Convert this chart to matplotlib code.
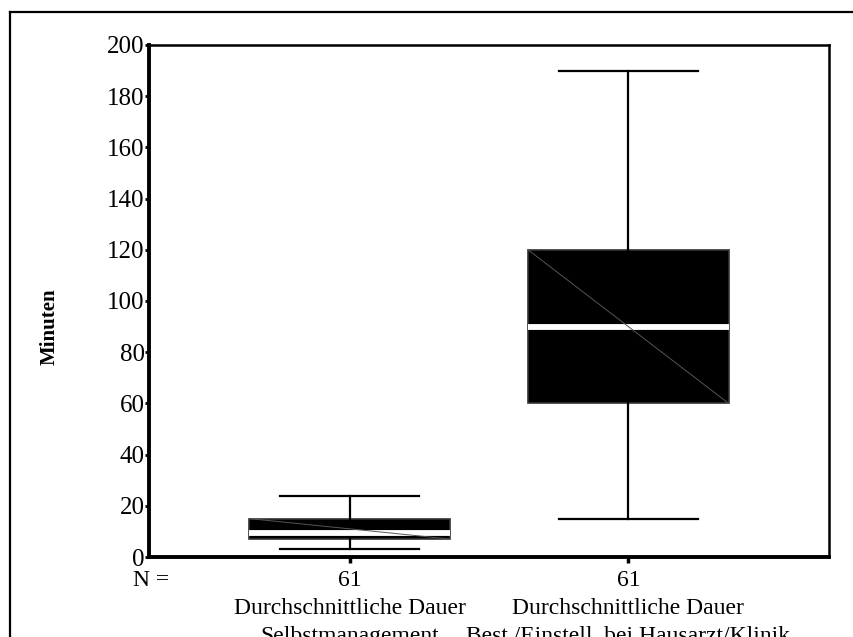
import matplotlib
matplotlib.use("Agg")
import matplotlib.pyplot as plt
from matplotlib.lines import Line2D

plt.rcParams['font.family'] = ['Liberation Serif', 'DejaVu Serif']

# box summary for the two durations (minutes)
labels = ['Durchschnittliche Dauer\nSelbstmanagement',
          'Durchschnittliche Dauer\nBest./Einstell. bei Hausarzt/Klinik']
n_cases = [61, 61]
whisker_low = [3, 15]
q1 = [7, 60]
median = [9.5, 90]
q3 = [15, 120]
whisker_high = [24, 190]

stats = []
for i in range(len(labels)):
    stats.append(dict(whislo=whisker_low[i], q1=q1[i], med=median[i],
                      q3=q3[i], whishi=whisker_high[i], fliers=[]))

fig = plt.figure(figsize=(8.54, 6.37), dpi=100)
W, H = 854, 637
ax = fig.add_axes([149 / W, 1 - 557 / H, (829 - 149) / W, (557 - 45) / H])

pos = [1, 2]
ax.bxp(stats, positions=pos, widths=0.72, capwidths=0.5, patch_artist=True,
       boxprops=dict(facecolor='black', edgecolor='#333333', linewidth=1.2),
       medianprops=dict(color='white', linewidth=4.2, solid_capstyle='butt'),
       whiskerprops=dict(color='black', linewidth=1.6),
       capprops=dict(color='black', linewidth=1.6))

# thin diagonal across each box
for i, p in enumerate(pos):
    ax.plot([p - 0.36, p + 0.36], [q3[i], q1[i]], color='#555555', lw=0.7, zorder=5)

ax.set_xlim(0.28, 2.72)
ax.set_ylim(0, 200)
ax.set_yticks(range(0, 201, 20))
ax.set_xticks(pos)
ax.set_xticklabels([f'{n}\n{lab}' for n, lab in zip(n_cases, labels)],
                   fontsize=17, linespacing=1.45)
ax.tick_params(axis='y', labelsize=18, length=3, width=2, pad=0)
ax.tick_params(axis='x', length=4, width=2.5, pad=5)

for side in ['left', 'bottom']:
    ax.spines[side].set_linewidth(2.8)
for side in ['top', 'right']:
    ax.spines[side].set_linewidth(1.8)

ax.set_ylabel('Minuten', fontsize=15, fontweight='bold')
ax.yaxis.set_label_coords((50 - 149) / (829 - 149), 0.45)
ax.yaxis.label.set_va('center')

fig.text(133 / W, 1 - 580 / H, 'N =', fontsize=17, va='center', ha='left')

# outer frame lines
fig.add_artist(Line2D([10 / W, 1], [1 - 12 / H, 1 - 12 / H], color='black', lw=1.6))
fig.add_artist(Line2D([10 / W, 10 / W], [0, 1 - 12 / H], color='black', lw=1.6))

fig.savefig('out.png', dpi=100)
